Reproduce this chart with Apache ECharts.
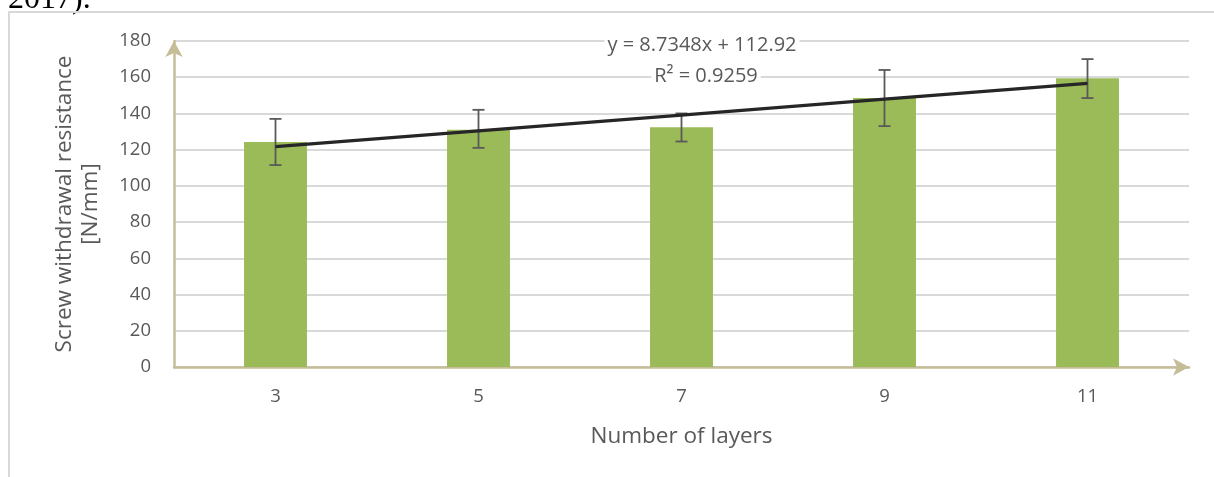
<!DOCTYPE html>
<html><head><meta charset="utf-8">
<script src="https://cdn.jsdelivr.net/npm/echarts@6/dist/echarts.min.js"></script>
<style>html,body{margin:0;padding:0;background:#fff}#c{width:1214px;height:477px}</style>
</head><body><div id="c"></div>
<script>
const categories = ['3', '5', '7', '9', '11'];
const meanValues = [124.2, 131.0, 132.4, 148.5, 159.5];
const errLow = [111.5, 121.0, 124.5, 133.0, 148.5];
const errHigh = [137.0, 142.0, 140.0, 164.0, 170.0];
const trendValues = [121.65, 130.39, 139.12, 147.86, 156.59];
const yTicks = [0, 20, 40, 60, 80, 100, 120, 140, 160, 180];
const equationText = 'y = 8.7348x + 112.92';
const r2Text = 'R² = 0.9259';

const FONT = '"Open Sans"';
const chart = echarts.init(document.getElementById('c'), null, {renderer: 'canvas'});
chart.setOption({
  animation: false,
  backgroundColor: '#fff',
  textStyle: {fontFamily: FONT},
  grid: {left: 174, right: 25, top: 41, bottom: 110, containLabel: false},
  graphic: [
    {type: 'polyline', shape: {points: [[9, 477], [9, 12], [1214, 12]]}, style: {stroke: '#d9d9d9', lineWidth: 2, fill: null}, z: 1},
    {type: 'text', x: 8, y: 0, style: {text: '2017).', font: '32px "Liberation Serif"', fill: '#000', verticalAlign: 'middle'}},
    {type: 'text', x: 702, y: 45, z: 100, style: {text: equationText, font: '20px ' + FONT, fill: '#595959', align: 'center', verticalAlign: 'middle', backgroundColor: '#fff', padding: [1, 3]}},
    {type: 'text', x: 706, y: 76, z: 100, style: {text: r2Text, font: '20px ' + FONT, fill: '#595959', align: 'center', verticalAlign: 'middle', backgroundColor: '#fff', padding: [1, 3]}}
  ],
  xAxis: {
    type: 'category', data: categories,
    name: 'Number of layers', nameLocation: 'middle', nameGap: 58,
    nameTextStyle: {fontSize: 22.5, color: '#595959', fontFamily: FONT},
    axisLine: {lineStyle: {color: '#c4bd97', width: 2.5}, symbol: ['none', 'arrow'], symbolSize: [13, 16], symbolOffset: [0, 0]},
    axisTick: {show: false},
    axisLabel: {fontSize: 18.5, color: '#595959', margin: 20, fontFamily: FONT}
  },
  yAxis: {
    type: 'value', min: 0, max: 180, interval: 20,
    name: 'Screw withdrawal resistance\n[N/mm]', nameLocation: 'middle', nameGap: 70,
    nameTextStyle: {fontSize: 22.5, color: '#595959', lineHeight: 26, fontFamily: FONT},
    axisLine: {show: true, lineStyle: {color: '#c4bd97', width: 2.5}, symbol: ['none', 'arrow'], symbolSize: [13, 16], symbolOffset: [0, 0]},
    axisTick: {show: false},
    axisLabel: {fontSize: 18.5, color: '#595959', margin: 23, fontFamily: FONT,
      formatter: v => yTicks.includes(v) ? String(v) : ''},
    splitLine: {lineStyle: {color: '#d9d9d9', width: 2}}
  },
  series: [
    {type: 'bar', data: meanValues, barWidth: '31%', itemStyle: {color: '#9bbb59'}, z: 2},
    {type: 'custom', z: 4,
      renderItem: function (params, api) {
        const i = api.value(0);
        const lo = api.coord([i, api.value(1)]);
        const hi = api.coord([i, api.value(2)]);
        const hw = 6;
        const st = {stroke: '#595959', lineWidth: 1.8};
        return {type: 'group', children: [
          {type: 'line', shape: {x1: lo[0], y1: lo[1], x2: hi[0], y2: hi[1]}, style: st},
          {type: 'line', shape: {x1: lo[0] - hw, y1: lo[1], x2: lo[0] + hw, y2: lo[1]}, style: st},
          {type: 'line', shape: {x1: hi[0] - hw, y1: hi[1], x2: hi[0] + hw, y2: hi[1]}, style: st}
        ]};
      },
      data: categories.map((c, i) => [i, errLow[i], errHigh[i]])
    },
    {type: 'line', data: trendValues, symbol: 'none', z: 5, lineStyle: {color: '#262626', width: 3.2}}
  ]
});
</script></body></html>
